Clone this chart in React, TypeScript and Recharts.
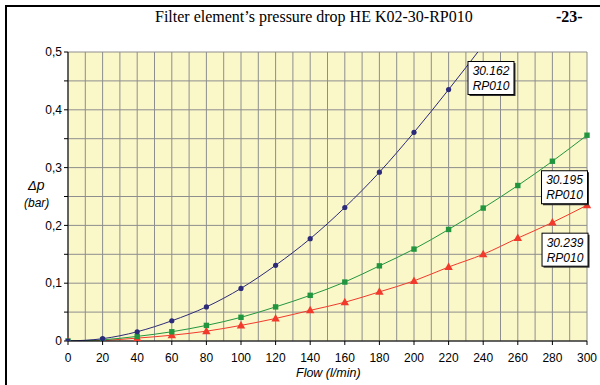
import React from "react";
import { LineChart, Line, XAxis, YAxis, CartesianGrid, ReferenceDot } from "recharts";

const flow = [0, 20, 40, 60, 80, 100, 120, 140, 160, 180, 200, 220, 240, 260, 280, 300];
const s162 = [0, 0.004, 0.016, 0.035, 0.059, 0.091, 0.131, 0.177, 0.231, 0.292, 0.361, 0.435, 0.512, null, null, null];
const s195 = [0, 0.002, 0.008, 0.016, 0.027, 0.041, 0.059, 0.079, 0.102, 0.13, 0.159, 0.193, 0.23, 0.269, 0.311, 0.356];
const s239 = [0, 0.001, 0.005, 0.01, 0.017, 0.027, 0.039, 0.053, 0.067, 0.085, 0.104, 0.128, 0.15, 0.178, 0.205, 0.235];

const xGrid = [0, 10, 20, 30, 40, 50, 60, 70, 80, 90, 100, 110, 120, 130, 140, 150, 160, 170, 180, 190, 200, 210, 220, 230, 240, 250, 260, 270, 280, 290, 300];
const yTicks = [0, 0.05, 0.1, 0.15, 0.2, 0.25, 0.3, 0.35, 0.4, 0.45, 0.5];

const seriesLabels = [
  { x: 244.5, y: 0.455, l1: "30.162", l2: "RP010" },
  { x: 287, y: 0.266, l1: "30.195", l2: "RP010" },
  { x: 287.3, y: 0.158, l1: "30.239", l2: "RP010" },
];

const data = flow.map((f, i) => ({ flow: f, a: s162[i], b: s195[i], c: s239[i] }));

const BLUE = "#2C2A7A";
const GREEN = "#22963F";
const RED = "#F23A2C";
const GRID = "#8E8E8E";
const SANS = "'Liberation Sans', Arial, sans-serif";
const SERIF = "'Liberation Serif', 'Times New Roman', serif";

const CircleDot = (p: any) => {
  if (p.value == null || p.value > 0.5) return <g key={p.key} />;
  return <circle key={p.key} cx={p.cx} cy={p.cy} r={2.6} fill={BLUE} />;
};
const SquareDot = (p: any) => {
  if (p.value == null) return <g key={p.key} />;
  return <rect key={p.key} x={p.cx - 2.7} y={p.cy - 2.7} width={5.4} height={5.4} fill={GREEN} />;
};
const TriDot = (p: any) => {
  if (p.value == null) return <g key={p.key} />;
  const { cx, cy } = p;
  return <polygon key={p.key} points={`${cx},${cy - 4.5} ${cx + 4.2},${cy + 3} ${cx - 4.2},${cy + 3}`} fill={RED} />;
};

const LabelBox = (l1: string, l2: string) => (p: any) => {
  const { cx, cy } = p;
  const w = 46;
  const h = 33;
  return (
    <g>
      <rect x={cx - w / 2 + 1.5} y={cy - h / 2 + 1.5} width={w} height={h} fill="#333" />
      <rect x={cx - w / 2} y={cy - h / 2} width={w} height={h} fill="#fff" stroke="#000" strokeWidth={1} />
      <text x={cx} y={cy - 3} textAnchor="middle" fontFamily={SANS} fontStyle="italic" fontSize={12} fill="#000">{l1}</text>
      <text x={cx} y={cy + 12} textAnchor="middle" fontFamily={SANS} fontStyle="italic" fontSize={12} fill="#000">{l2}</text>
    </g>
  );
};

const XTick = (p: any) => {
  const { x, y, payload } = p;
  const v = payload.value;
  if (v % 20 !== 0) return <g />;
  return (
    <g>
      <line x1={x} x2={x} y1={y - 12} y2={y - 8} stroke="#000" />
      <text x={x} y={y} dy="0.71em" textAnchor="middle" fontFamily={SANS} fontSize={12} fill="#000">{v}</text>
    </g>
  );
};

const yFmt = (v: number) => {
  const k = Math.round(v * 100);
  if (k % 10 !== 0) return "";
  return (k / 100).toString().replace(".", ",");
};

export default function App() {
  return (
    <div style={{ position: "absolute", left: 0, top: 0, width: 600, height: 385, background: "#fff", overflow: "hidden" }}>
      <div style={{ position: "absolute", left: 5, top: 5, width: 600, height: 2, background: "#000" }} />
      <div style={{ position: "absolute", left: 5, top: 5, width: 2, height: 385, background: "#000" }} />
      <div style={{ position: "absolute", left: 155, top: 8, fontFamily: SERIF, fontSize: 16, color: "#000", whiteSpace: "nowrap" }}>
        Filter element’s pressure drop HE K02-30-RP010
      </div>
      <div style={{ position: "absolute", left: 556, top: 8, fontFamily: SERIF, fontSize: 16, fontWeight: "bold", color: "#000" }}>
        -23-
      </div>
      <div style={{ position: "absolute", left: 28, top: 177, fontFamily: SANS, fontSize: 13, fontStyle: "italic", color: "#000" }}>
        Δ<span style={{ fontSize: 14 }}>p</span>
      </div>
      <div style={{ position: "absolute", left: 24, top: 196, fontFamily: SANS, fontSize: 12, fontStyle: "italic", color: "#000" }}>
        (bar)
      </div>
      <div style={{ position: "absolute", left: 296, top: 366, fontFamily: SANS, fontSize: 12.5, lineHeight: "14px", fontStyle: "italic", color: "#000", whiteSpace: "nowrap" }}>
        Flow (l/min)
      </div>
      <div style={{ position: "absolute", left: 0, top: 0 }}>
        <LineChart width={600} height={385} data={data} margin={{ top: 52, right: 13, bottom: 14, left: 28 }}>
          <CartesianGrid stroke={GRID} fill="#FAF7C9" fillOpacity={1} />
          <XAxis
            dataKey="flow"
            type="number"
            domain={[0, 300]}
            ticks={xGrid}
            interval={0}
            height={30}
            tickSize={4}
            tickMargin={8}
            tickLine={false}
            stroke="#000"
            tick={XTick}
          />
          <YAxis
            type="number"
            domain={[0, 0.5]}
            ticks={yTicks}
            interval={0}
            allowDataOverflow
            width={40}
            tickSize={4}
            tickMargin={2}
            stroke="#000"
            tickFormatter={yFmt}
            tick={{ fontFamily: SANS, fontSize: 12, fill: "#000" }}
          />
          <Line type="monotone" dataKey="c" stroke={RED} strokeWidth={1} dot={TriDot} isAnimationActive={false} />
          <Line type="monotone" dataKey="b" stroke={GREEN} strokeWidth={1} dot={SquareDot} isAnimationActive={false} />
          <Line type="monotone" dataKey="a" stroke={BLUE} strokeWidth={1} dot={CircleDot} isAnimationActive={false} />
          {seriesLabels.map((l) => (
            <ReferenceDot key={l.l1} x={l.x} y={l.y} r={1} shape={LabelBox(l.l1, l.l2)} ifOverflow="visible" />
          ))}
        </LineChart>
      </div>
    </div>
  );
}
